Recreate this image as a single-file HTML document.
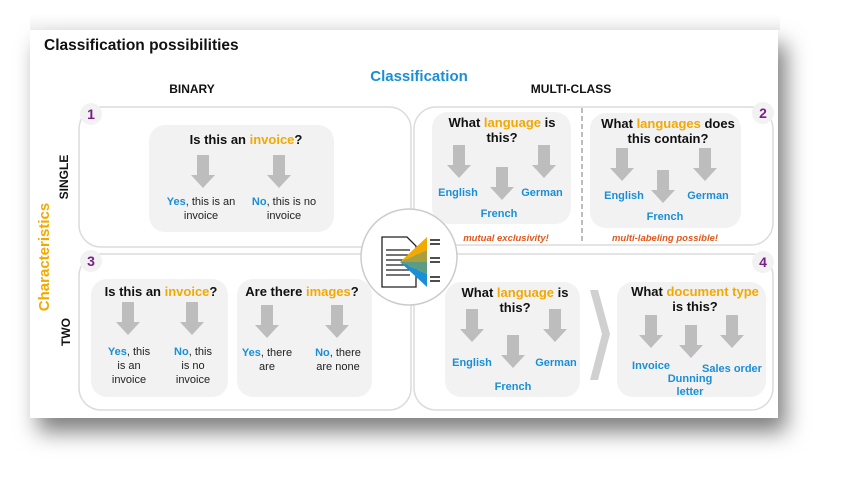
<!DOCTYPE html>
<html><head><meta charset="utf-8"><style>
body{margin:0;width:841px;height:481px;background:#fff;overflow:hidden}
svg{display:block;font-family:"Liberation Sans",Arial,sans-serif}
</style></head><body>
<svg width="841" height="481" viewBox="0 0 841 481" xmlns="http://www.w3.org/2000/svg">
<defs>
<filter id="sh" x="-10%" y="-10%" width="130%" height="150%"><feDropShadow dx="8" dy="14" stdDeviation="11" flood-color="#000" flood-opacity="0.5"/></filter>
<linearGradient id="top" x1="0" y1="0" x2="0" y2="1"><stop offset="0" stop-color="#fff"/><stop offset="1" stop-color="#f0f0f0"/></linearGradient>
<g id="ar"><rect x="-6" y="0" width="12" height="21" fill="#bdbdbd"/><polygon points="-12,20 12,20 0,33" fill="#bdbdbd"/></g>
</defs>
<rect x="30" y="14" width="750" height="16" fill="url(#top)"/>
<rect x="30" y="30" width="748" height="388" fill="#fff" filter="url(#sh)"/>
<g font-weight="bold">
<text x="44" y="50" font-size="15.5" fill="#111">Classification possibilities</text>
<text x="419" y="81" font-size="15" fill="#1a8fd6" text-anchor="middle">Classification</text>
<text x="192" y="93" font-size="12" fill="#111" text-anchor="middle">BINARY</text>
<text x="571" y="93" font-size="12" fill="#111" text-anchor="middle">MULTI-CLASS</text>
<text transform="translate(49,257) rotate(-90)" font-size="15" fill="#f2a900" text-anchor="middle">Characteristics</text>
<text transform="translate(68,177) rotate(-90)" font-size="12" fill="#111" text-anchor="middle">SINGLE</text>
<text transform="translate(70,332) rotate(-90)" font-size="12" fill="#111" text-anchor="middle">TWO</text>
</g>
<g fill="#fff" stroke="#dcdcdc" stroke-width="1.5">
<rect x="79" y="107" width="332" height="140" rx="22"/>
<rect x="414" y="107" width="359" height="138" rx="22"/>
<rect x="79" y="254" width="332" height="156" rx="22"/>
<rect x="414" y="254" width="359" height="156" rx="22"/>
</g>
<g fill="#f2f2f2">
<rect x="149" y="125" width="185" height="107" rx="16"/>
<rect x="432" y="112" width="139" height="112" rx="16"/>
<rect x="590" y="113" width="151" height="115" rx="16"/>
<rect x="91" y="279" width="137" height="118" rx="16"/>
<rect x="237" y="279" width="135" height="118" rx="16"/>
<rect x="445" y="282" width="135" height="115" rx="16"/>
<rect x="617" y="282" width="149" height="115" rx="16"/>
<circle cx="91" cy="114" r="11"/><circle cx="763" cy="113" r="11"/>
<circle cx="91" cy="261" r="11"/><circle cx="763" cy="262" r="11"/>
</g>
<line x1="582" y1="108" x2="582" y2="242" stroke="#999" stroke-width="1.3" stroke-dasharray="5,3"/>
<polygon points="590,290 598,290 610,334 598,380 590,380 602,334" fill="#d0d0d0"/>
<g font-weight="bold" font-size="14" fill="#7a1f8a" text-anchor="middle">
<text x="91" y="119">1</text><text x="763" y="118">2</text><text x="91" y="266">3</text><text x="763" y="267">4</text>
</g>
<use href="#ar" x="203" y="155"/><use href="#ar" x="279" y="155"/>
<use href="#ar" x="459" y="145"/><use href="#ar" x="544" y="145"/><use href="#ar" x="502" y="167"/>
<use href="#ar" x="622" y="148"/><use href="#ar" x="705" y="148"/><use href="#ar" x="663" y="170"/>
<use href="#ar" x="128" y="302"/><use href="#ar" x="192" y="302"/>
<use href="#ar" x="267" y="305"/><use href="#ar" x="337" y="305"/>
<use href="#ar" x="472" y="309"/><use href="#ar" x="555" y="309"/><use href="#ar" x="513" y="335"/>
<use href="#ar" x="651" y="315"/><use href="#ar" x="691" y="325"/><use href="#ar" x="732" y="315"/>
<g font-weight="bold" font-size="13" fill="#111" text-anchor="middle">
<text x="246" y="144">Is this an <tspan fill="#f2a900">invoice</tspan>?</text>
<text x="502" y="127">What <tspan fill="#f2a900">language</tspan> is</text><text x="502" y="142">this?</text>
<text x="668" y="128">What <tspan fill="#f2a900">languages</tspan> does</text><text x="668" y="143">this contain?</text>
<text x="161" y="296">Is this an <tspan fill="#f2a900">invoice</tspan>?</text>
<text x="302" y="296">Are there <tspan fill="#f2a900">images</tspan>?</text>
<text x="515" y="297">What <tspan fill="#f2a900">language</tspan> is</text><text x="515" y="312">this?</text>
<text x="695" y="296">What <tspan fill="#f2a900">document type</tspan></text><text x="695" y="311">is this?</text>
</g>
<g font-size="11" fill="#222" text-anchor="middle">
<text x="201" y="205"><tspan fill="#1a8fd6" font-weight="bold">Yes</tspan>, this is an</text><text x="201" y="219">invoice</text>
<text x="284" y="205"><tspan fill="#1a8fd6" font-weight="bold">No</tspan>, this is no</text><text x="284" y="219">invoice</text>
<text x="129" y="355"><tspan fill="#1a8fd6" font-weight="bold">Yes</tspan>, this</text><text x="129" y="369">is an</text><text x="129" y="383">invoice</text>
<text x="193" y="355"><tspan fill="#1a8fd6" font-weight="bold">No</tspan>, this</text><text x="193" y="369">is no</text><text x="193" y="383">invoice</text>
<text x="267" y="356"><tspan fill="#1a8fd6" font-weight="bold">Yes</tspan>, there</text><text x="267" y="370">are</text>
<text x="338" y="356"><tspan fill="#1a8fd6" font-weight="bold">No</tspan>, there</text><text x="338" y="370">are none</text>
</g>
<g font-size="11" font-weight="bold" fill="#1a8fd6" text-anchor="middle">
<text x="458" y="196">English</text><text x="542" y="196">German</text><text x="499" y="217">French</text>
<text x="624" y="199">English</text><text x="708" y="199">German</text><text x="665" y="220">French</text>
<text x="472" y="366">English</text><text x="556" y="366">German</text><text x="513" y="390">French</text>
<text x="651" y="369">Invoice</text><text x="732" y="372">Sales order</text><text x="690" y="382">Dunning</text><text x="690" y="395">letter</text>
</g>
<g font-size="9.5" font-weight="bold" font-style="italic" fill="#e0581c" text-anchor="middle">
<text x="506" y="241">mutual exclusivity!</text><text x="665" y="241">multi-labeling possible!</text>
</g>
<circle cx="409" cy="257" r="48" fill="#fff" stroke="#ccc" stroke-width="1.5"/>
<polygon points="382,237 407,237 416,246 416,287 382,287" fill="#fff" stroke="#222" stroke-width="1.3"/>
<g stroke="#222" stroke-width="1.2"><line x1="386" y1="250" x2="410" y2="250"/><line x1="386" y1="255" x2="410" y2="255"/><line x1="386" y1="260" x2="410" y2="260"/><line x1="386" y1="265" x2="410" y2="265"/><line x1="386" y1="270" x2="410" y2="270"/><line x1="386" y1="275" x2="410" y2="275"/></g>
<polygon points="400,262 427,237 427,250" fill="#f2a900"/>
<polygon points="400,262 427,250 427,262" fill="#a8a040"/>
<polygon points="400,262 427,262 427,274" fill="#5c9c80"/>
<polygon points="400,262 427,274 427,287" fill="#1a8fd6"/>
<g stroke="#222" stroke-width="1.6"><line x1="430" y1="240" x2="440" y2="240"/><line x1="430" y1="244" x2="440" y2="244"/><line x1="430" y1="258" x2="440" y2="258"/><line x1="430" y1="262" x2="440" y2="262"/><line x1="430" y1="277" x2="440" y2="277"/><line x1="430" y1="281" x2="440" y2="281"/></g>
</svg>
</body></html>
